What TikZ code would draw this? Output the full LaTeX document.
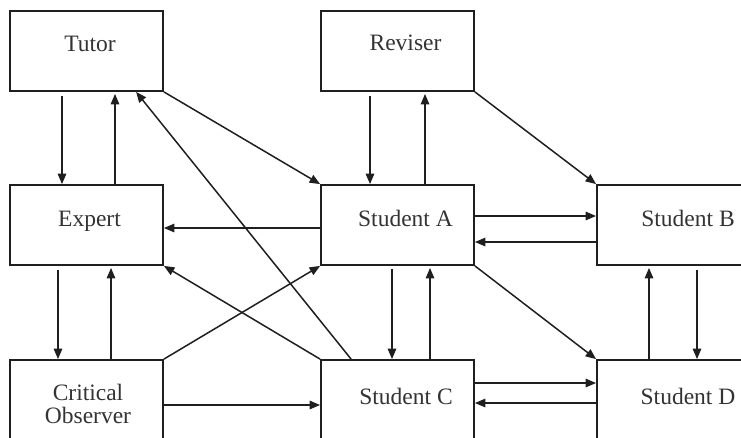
\documentclass[tikz,border=0pt]{standalone}
\usepackage{fontspec}
\setmainfont{Liberation Serif}
\usetikzlibrary{arrows.meta,calc}
\begin{document}
\begin{tikzpicture}[x=1pt,y=-1pt,
  box/.style={draw=black!88, line width=1.8pt, minimum width=153pt, minimum height=80pt, inner sep=0pt},
  widebox/.style={box, minimum width=182pt},
  lbl/.style={font=\fontsize{23.5}{23}\selectfont, text=black!80, inner sep=0pt, align=center, anchor=base},
  arr/.style={line width=1.5pt, draw=black!88, -{Triangle[length=10.5pt,width=8.5pt]}}]
\useasboundingbox (0,0) rectangle (741,437);
\clip (0,0) rectangle (741,437);

\node[box] (tutor) at (86.5,51) {};
\node[box] (reviser) at (397.5,51) {};
\node[box] (expert) at (86.5,225) {};
\node[box] (stuA) at (397.5,225) {};
\node[widebox] (stuB) at (688,225) {};
\node[box] (critical) at (86.5,400) {};
\node[box] (stuC) at (397.5,400) {};
\node[widebox] (stuD) at (688,400) {};

\node[lbl] (tutorT) at ([xshift=3.5pt]tutor.center) {Tutor};
\node[lbl] (reviserT) at ([xshift=8pt,yshift=1pt]reviser.center) {Reviser};
\node[lbl] (expertT) at ([xshift=3pt,yshift=-1pt]expert.center) {Expert};
\node[lbl] (stuAT) at ([xshift=8pt,yshift=-1pt]stuA.center) {Student A};
\node[lbl] (stuBT) at ([yshift=-1pt]stuB.center) {Student B};
\node[lbl] (criticalT) at ([xshift=1.5pt,yshift=-23pt]critical.center) {Critical\\Observer};
\node[lbl] (stuCT) at ([xshift=8.5pt,yshift=-4pt]stuC.center) {Student C};
\node[lbl] (stuDT) at ([yshift=-4pt]stuD.center) {Student D};

% vertical pairs
\draw[arr, shorten <=4pt] ([xshift=-24.5pt]tutor.south) -- ([xshift=-24.5pt]expert.north);
\draw[arr, shorten >=2pt] ([xshift=28.5pt]expert.north) -- ([xshift=28.5pt]tutor.south);
\draw[arr, shorten <=4pt] ([xshift=-27.5pt]reviser.south) -- ([xshift=-27.5pt]stuA.north);
\draw[arr, shorten >=2pt] ([xshift=27.5pt]stuA.north) -- ([xshift=27.5pt]reviser.south);
\draw[arr, shorten <=4pt] ([xshift=-28.5pt]expert.south) -- ([xshift=-28.5pt]critical.north);
\draw[arr, shorten >=2pt] ([xshift=24.5pt]critical.north) -- ([xshift=24.5pt]expert.south);
\draw[arr, shorten <=3pt] ([xshift=-5.5pt]stuA.south) -- ([xshift=-5.5pt]stuC.north);
\draw[arr, shorten >=2pt] ([xshift=32.5pt]stuC.north) -- ([xshift=32.5pt]stuA.south);
\draw[arr, shorten >=2pt] ([xshift=-39pt]stuD.north) -- ([xshift=-39pt]stuB.south);
\draw[arr, shorten <=4pt] ([xshift=9pt]stuB.south) -- ([xshift=9pt]stuD.north);

% horizontal pairs
\draw[arr] ([yshift=-3pt]stuA.west) -- ([yshift=-3pt]expert.east);
\draw[arr] ([yshift=9pt]stuA.east) -- ([yshift=9pt]stuB.west);
\draw[arr] ([yshift=-17pt]stuB.west) -- ([yshift=-17pt]stuA.east);
\draw[arr] ([yshift=-5pt]critical.east) -- ([yshift=-5pt]stuC.west);
\draw[arr] ([yshift=17pt]stuC.east) -- ([yshift=17pt]stuD.west);
\draw[arr] ([yshift=-3pt]stuD.west) -- ([yshift=-3pt]stuC.east);

% diagonals
\draw[arr] (tutor.south east) -- (stuA.north west);
\draw[arr] (reviser.south east) -- (stuB.north west);
\draw[arr] (stuA.south east) -- (stuD.north west);
\draw[arr] (critical.north east) -- (stuA.south west);
\draw[arr] (stuC.north west) -- (expert.south east);
\draw[arr] ([xshift=31pt]stuC.north west) -- ([xshift=127pt]tutor.south west);
\end{tikzpicture}
\end{document}
